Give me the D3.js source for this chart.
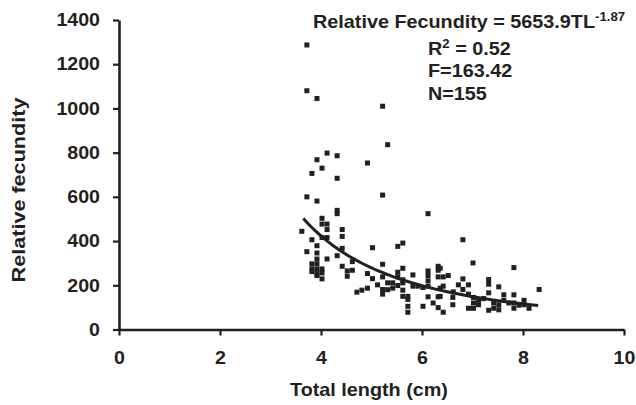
<!DOCTYPE html>
<html>
<head>
<meta charset="utf-8">
<script src="https://cdn.jsdelivr.net/npm/d3@7"></script>
<style>
  body { margin: 0; background: #fff; }
  text { font-family: "Liberation Sans", Arial, sans-serif; font-weight: bold; fill: #231f20; }
</style>
</head>
<body>
<div id="wrapper"></div>
<script>
// total length (cm) and relative fecundity
const lengths = [
  3.72, 3.72, 3.92, 5.22, 5.32, 4.12, 4.32, 3.92, 4.92, 4.02, 3.82, 4.32, 5.22, 3.72,
  3.92, 4.32, 4.32, 6.12, 4.02, 4.02, 4.12, 4.12, 3.62, 4.42, 4.42, 4.02, 4.12, 3.82,
  6.81, 5.62, 5.52, 3.92, 5.02, 4.42, 3.72, 3.92, 4.32, 3.92, 4.12, 4.62, 7.01, 3.82,
  3.92, 5.22, 4.42, 6.32, 7.82, 3.82, 3.92, 4.02, 5.62, 6.36, 4.62, 6.32, 4.52, 6.12,
  5.52, 3.92, 4.92, 3.92, 4.52, 5.82, 6.12, 6.52, 6.42, 6.32, 5.52, 5.22, 4.02, 6.81,
  7.32, 6.12, 5.32, 7.32, 5.12, 6.72, 6.92, 4.92, 4.81, 4.71, 5.42, 5.52, 5.62, 5.82,
  5.92, 6.12, 6.42, 7.52, 6.36, 5.22, 6.81, 8.32, 5.22, 6.92, 5.72, 5.62, 6.12, 6.32,
  6.36, 6.61, 7.32, 7.62, 7.82, 7.02, 5.72, 7.12, 7.62, 8.02, 6.22, 7.42, 7.72, 7.82,
  7.52, 8.02, 6.61, 7.12, 5.72, 6.02, 6.32, 6.92, 7.02, 7.42, 7.82, 8.12, 7.52, 7.32,
  5.72, 6.42, 5.42, 5.62, 5.62, 7.02, 3.82, 4.02, 6.02, 6.62, 5.02, 5.32, 7.22, 7.92
]
const fecundity = [
  1287, 1080, 1045, 1010, 836, 798, 786, 768, 753, 730, 706, 684, 608, 600,
  581, 539, 524, 524, 503, 477, 477, 452, 444, 452, 421, 416, 416, 406,
  406, 391, 376, 379, 370, 367, 352, 346, 334, 319, 319, 307, 301, 297,
  297, 295, 286, 286, 280, 274, 274, 274, 277, 277, 268, 268, 265, 265,
  259, 253, 253, 244, 241, 247, 244, 244, 238, 238, 238, 238, 229, 229,
  226, 220, 211, 205, 202, 202, 202, 187, 178, 169, 187, 199, 178, 196,
  196, 196, 196, 193, 187, 181, 181, 181, 160, 160, 150, 150, 148, 148,
  150, 145, 166, 157, 157, 145, 136, 132, 132, 132, 120, 120, 120, 120,
  112, 112, 112, 112, 105, 105, 99, 96, 96, 96, 96, 96, 89, 87,
  78, 78, 211, 211, 225, 120, 262, 256, 190, 170, 230, 180, 140, 110
]
const xTicks = [0, 2, 4, 6, 8, 10]
const yTicks = [0, 200, 400, 600, 800, 1000, 1200, 1400]
const fitA = 5653.9
const fitB = -1.87
const fitRange = [3.65, 8.3]
const statLines = ["F=163.42", "N=155"]

const width = 636, height = 405
const ink = "#231f20"
const stretch = 1.09   // the original lettering is a little wider than Arial

const svg = d3.select("#wrapper").append("svg")
  .attr("width", width)
  .attr("height", height)

const x = d3.scaleLinear().domain([0, 10]).range([119, 624])
const y = d3.scaleLinear().domain([0, 1400]).range([329.5, 20])

// axes
const xAxis = svg.append("g")
  .attr("transform", `translate(0, ${y(0)})`)
  .call(d3.axisBottom(x).tickValues(xTicks).tickFormat(d3.format("d"))
    .tickSize(6).tickSizeOuter(0).tickPadding(16))
const yAxis = svg.append("g")
  .attr("transform", `translate(${x(0)}, 0)`)
  .call(d3.axisLeft(y).tickValues(yTicks).tickFormat(d3.format("d"))
    .tickSize(6).tickSizeOuter(0).tickPadding(13))

for (const ax of [xAxis, yAxis]) {
  ax.select(".domain").attr("stroke", ink).attr("stroke-width", 2.6)
  ax.selectAll(".tick line").attr("stroke", ink).attr("stroke-width", 2.2)
  ax.selectAll(".tick text")
    .attr("fill", ink)
    .style("font-family", "'Liberation Sans', Arial, sans-serif")
    .style("font-weight", "bold")
    .style("font-size", "18px")
    .attr("transform", `scale(${stretch},1)`)
}
yAxis.selectAll(".tick text").attr("x", -19 / stretch)

// points
const points = lengths.map((d, i) => ({ tl: d, rf: fecundity[i] }))
svg.append("g")
  .selectAll("rect")
  .data(points)
  .enter().append("rect")
  .attr("x", d => x(d.tl) - 2.5)
  .attr("y", d => y(d.rf) - 2.5)
  .attr("width", 5)
  .attr("height", 5)
  .attr("fill", ink)

// power fit line
const fitData = d3.range(fitRange[0], fitRange[1] + 0.001, 0.05)
  .map(t => ({ tl: t, rf: fitA * Math.pow(t, fitB) }))
svg.append("path")
  .datum(fitData)
  .attr("fill", "none")
  .attr("stroke", ink)
  .attr("stroke-width", 3)
  .attr("d", d3.line().x(d => x(d.tl)).y(d => y(d.rf)))

// equation and stats
const eq = svg.append("text")
  .attr("transform", "translate(313, 28) scale(1.1,1)")
  .style("font-size", "18px")
eq.append("tspan").text("Relative Fecundity = 5653.9TL")
eq.append("tspan").attr("dy", -7).style("font-size", "12px").text(fitB.toFixed(2))

const r2 = svg.append("text")
  .attr("transform", "translate(428, 55) scale(1.1,1)")
  .style("font-size", "18px")
r2.append("tspan").text("R")
r2.append("tspan").attr("dy", -7).style("font-size", "12px").text("2")
r2.append("tspan").attr("dy", 7).text(" = 0.52")

svg.selectAll(".stat")
  .data(statLines)
  .enter().append("text")
  .attr("class", "stat")
  .attr("transform", (d, i) => `translate(428, ${77 + i * 23}) scale(1.1,1)`)
  .style("font-size", "18px")
  .text(d => d)

// axis titles
svg.append("text")
  .attr("transform", "translate(369, 396) scale(1.1,1)")
  .attr("text-anchor", "middle")
  .style("font-size", "18px")
  .text("Total length (cm)")

svg.append("text")
  .attr("transform", "translate(25, 190) rotate(-90) scale(1.2,1)")
  .attr("text-anchor", "middle")
  .style("font-size", "18px")
  .text("Relative fecundity")
</script>
</body>
</html>
